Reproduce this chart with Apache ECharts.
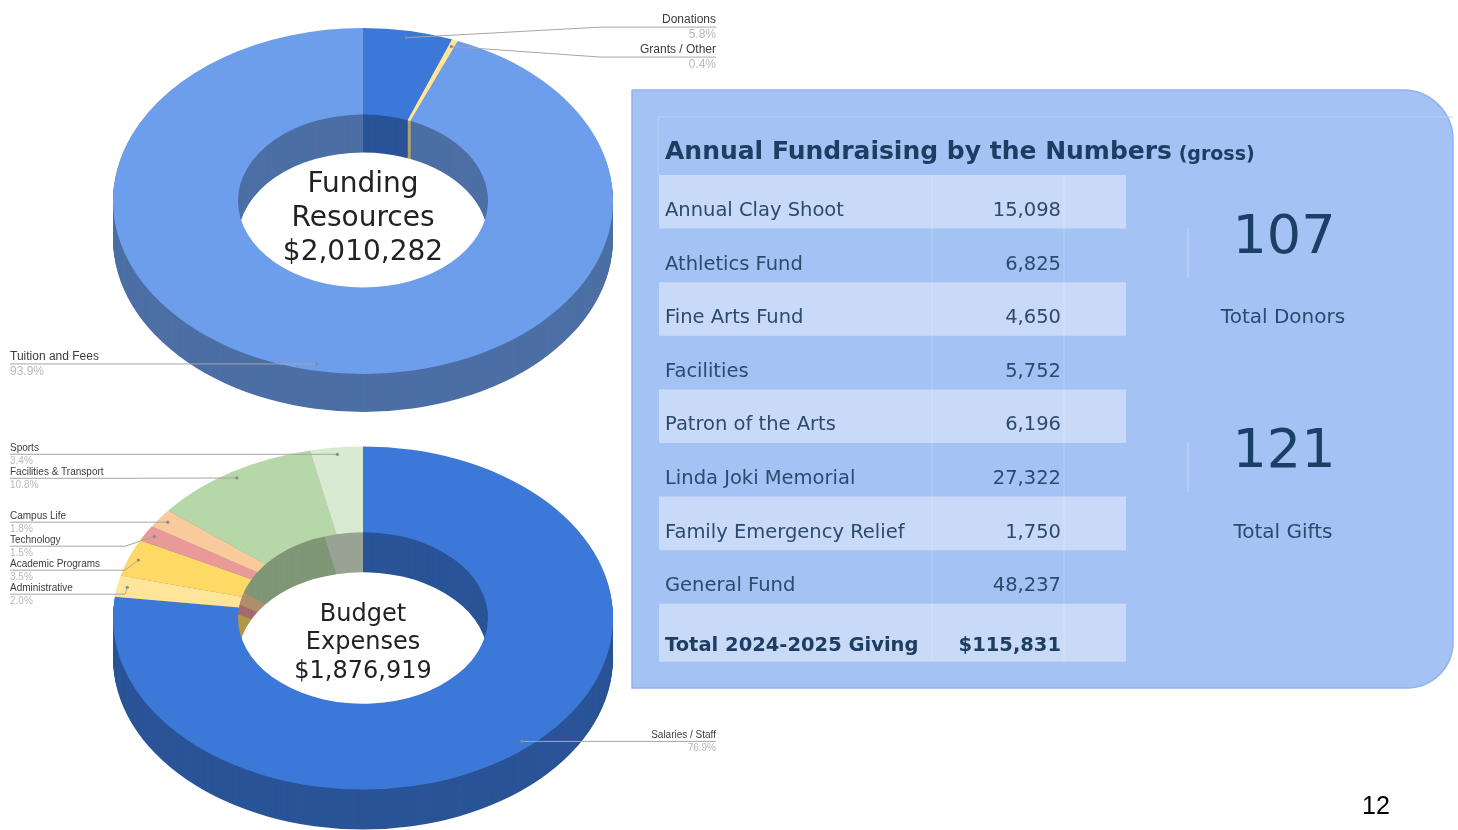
<!DOCTYPE html>
<html>
<head>
<meta charset="utf-8">
<title>Funding Resources and Budget Expenses</title>
<script src="https://cdn.jsdelivr.net/npm/echarts@6/dist/echarts.min.js"></script>
<style>
html, body { margin: 0; padding: 0; background: #fff; }
#main { width: 1458px; height: 830px; }
</style>
</head>
<body>
<div id="main"></div>
<script>
// top donut - funding resources (percent of total)
var fundingNames = ['Donations', 'Grants / Other', 'Tuition and Fees'];
var fundingPct = [5.8, 0.4, 93.9];
var fundingColors = ['#3c78d8', '#ffe599', '#6d9eeb'];
var fundingTotal = 2010282;

// bottom donut - budget expenses (percent of total)
var expenseNames = ['Salaries / Staff', 'Administrative', 'Academic Programs', 'Technology', 'Campus Life', 'Facilities & Transport', 'Sports'];
var expensePct = [76.9, 2.0, 3.5, 1.5, 1.8, 10.8, 3.4];
var expenseColors = ['#3c78d8', '#ffe599', '#ffd966', '#ea9999', '#f9cb9c', '#b6d7a8', '#d9ead3'];
var expenseTotal = 1876919;

// fundraising table
var fundNames = ['Annual Clay Shoot', 'Athletics Fund', 'Fine Arts Fund', 'Facilities', 'Patron of the Arts', 'Linda Joki Memorial', 'Family Emergency Relief', 'General Fund'];
var fundAmounts = [15098, 6825, 4650, 5752, 6196, 27322, 1750, 48237];
var givingTotal = 115831;
var totalDonors = 107;
var totalGifts = 121;
var pageNumber = 12;

function fmt(n) { return n.toLocaleString('en-US'); }

function darken(hex, k) {
    var n = parseInt(hex.slice(1), 16);
    var r = Math.round((n >> 16) * k), g = Math.round(((n >> 8) & 255) * k), b = Math.round((n & 255) * k);
    return 'rgb(' + r + ',' + g + ',' + b + ')';
}

// slice angles, label anchor and label rows worked out from the values
function buildDonut(names, values, colors, cfg) {
    var total = values.reduce(function (a, b) { return a + b; }, 0);
    var acc = 0;
    var slices = values.map(function (v, i) {
        var f0 = acc / total; acc += v; var f1 = acc / total;
        var mid = (f0 + f1) / 2 * Math.PI * 2;
        return {
            name: names[i], value: v, color: colors[i], dark: darken(colors[i], 0.7),
            a0: -Math.PI / 2 + f0 * Math.PI * 2,
            a1: -Math.PI / 2 + f1 * Math.PI * 2,
            dotX: cfg.cx + cfg.r * 0.96 * Math.sin(mid),
            dotY: cfg.cy - cfg.r * 0.96 * Math.cos(mid) * cfg.ky,
            side: Math.sin(mid) >= 0 ? 'right' : 'left'
        };
    });
    ['left', 'right'].forEach(function (side) {
        var list = slices.filter(function (s) { return s.side === side; })
            .sort(function (a, b) { return a.dotY - b.dotY; });
        list.forEach(function (s) { s.ly = s.dotY; });
        if (cfg.push === 'down') {
            for (var j = 1; j < list.length; j++) {
                list[j].ly = Math.max(list[j].ly, list[j - 1].ly + cfg.gap);
            }
            return;
        }
        for (var it = 0; it < 200; it++) {
            for (var q = 1; q < list.length; q++) {
                var d = list[q].ly - list[q - 1].ly;
                if (d < cfg.gap) {
                    var m = (cfg.gap - d) / 2;
                    list[q].ly += m; list[q - 1].ly -= m;
                }
            }
        }
    });
    return slices;
}

function donutRenderer(slices, cfg) {
    return function (params, api) {
        var s = slices[params.dataIndex];
        var shape = { cx: cfg.cx, cy: 0, r: cfg.r, r0: cfg.r0, startAngle: s.a0, endAngle: s.a1, clockwise: true };
        var kids = [];
        // side wall: stacked darker layers
        for (var k = cfg.depth; k >= 1; k--) {
            kids.push({ type: 'sector', silent: true, z2: 1, y: cfg.cy + k, scaleY: cfg.ky, shape: shape, style: { fill: s.dark } });
        }
        // top face
        kids.push({ type: 'sector', z2: 10, y: cfg.cy, scaleY: cfg.ky, shape: shape, style: { fill: s.color } });
        // leader line + label
        var left = s.side === 'left';
        var ex = left ? cfg.leftX : cfg.rightX;
        var knee = left ? Math.min(ex + 115, s.dotX) : Math.max(ex - 115, s.dotX);
        kids.push({ type: 'polyline', z2: 20, shape: { points: [[s.dotX, s.dotY], [knee, s.ly], [ex, s.ly]] },
            style: { stroke: '#a6a6a6', lineWidth: 1, fill: 'none' } });
        kids.push({ type: 'circle', z2: 21, shape: { cx: s.dotX, cy: s.dotY, r: 1.6 }, style: { fill: '#8a8a8a' } });
        kids.push({ type: 'text', z2: 22, style: {
            text: s.name, x: ex, y: s.ly - 1, align: left ? 'left' : 'right', textAlign: left ? 'left' : 'right',
            verticalAlign: 'bottom', textVerticalAlign: 'bottom',
            font: cfg.fontSize + 'px "Liberation Sans", Arial, sans-serif', fill: '#3c3c3c' } });
        kids.push({ type: 'text', z2: 22, style: {
            text: s.value.toFixed(1) + '%', x: ex, y: s.ly + 2, align: left ? 'left' : 'right', textAlign: left ? 'left' : 'right',
            verticalAlign: 'top', textVerticalAlign: 'top',
            font: cfg.fontSize + 'px "Liberation Sans", Arial, sans-serif', fill: '#b8b8b8' } });
        return { type: 'group', children: kids };
    };
}

var topCfg = { cx: 363, cy: 201, r: 250, r0: 125, ky: 0.692, depth: 38, gap: 30, push: 'center', fontSize: 12, leftX: 10, rightX: 716 };
var botCfg = { cx: 363, cy: 618, r: 250, r0: 125, ky: 0.686, depth: 40, gap: 24, push: 'down', fontSize: 10, leftX: 10, rightX: 716 };
var topSlices = buildDonut(fundingNames, fundingPct, fundingColors, topCfg);
var botSlices = buildDonut(expenseNames, expensePct, expenseColors, botCfg);

function txt(x, y, text, font, fill, align, z) {
    return { type: 'text', x: x, y: y, z: z || 10, style: {
        text: text, font: font, fill: fill,
        align: align || 'center', textAlign: align || 'center',
        verticalAlign: 'middle', textVerticalAlign: 'middle' } };
}

var FONT = '"DejaVu Sans", Verdana, sans-serif';
var TXT = '#2c4a6e';
var graphics = [];

// centre captions
graphics.push({ type: 'text', x: 363, y: 219, z: 50, style: {
    text: 'Funding\nResources\n$' + fmt(fundingTotal), font: '28px ' + FONT, lineHeight: 34, fill: '#222',
    align: 'center', textAlign: 'center', verticalAlign: 'middle', textVerticalAlign: 'middle' } });
graphics.push({ type: 'text', x: 363, y: 643, z: 50, style: {
    text: 'Budget\nExpenses\n$' + fmt(expenseTotal), font: '24px ' + FONT, lineHeight: 28.5, fill: '#222',
    align: 'center', textAlign: 'center', verticalAlign: 'middle', textVerticalAlign: 'middle' } });

// panel
graphics.push({ type: 'rect', z: 1, shape: { x: 632, y: 90, width: 821, height: 598, r: [0, 50, 46, 0] },
    style: { fill: '#a4c2f4', stroke: '#8fb2ee', lineWidth: 1.5 } });
graphics.push({ type: 'polyline', z: 2, shape: { points: [[658, 175], [658, 117], [1453, 117]] },
    style: { stroke: '#b9d0f6', lineWidth: 1, fill: 'none' } });
graphics.push({ type: 'text', x: 665, y: 152, z: 10, style: {
    text: '{a|Annual Fundraising by the Numbers}  {b|(gross)}',
    rich: {
        a: { font: 'bold 25px ' + FONT, fill: '#1d3d62', verticalAlign: 'bottom' },
        b: { font: 'bold 19px ' + FONT, fill: '#1d3d62', verticalAlign: 'bottom' }
    },
    align: 'left', textAlign: 'left', verticalAlign: 'middle', textVerticalAlign: 'middle' } });

// table rows
var rowTop = 175, rowH = 53.6;
var ROWFONT = '19.5px ' + FONT;
fundNames.forEach(function (name, i) {
    var y0 = rowTop + i * rowH;
    if (i % 2 === 0) {
        graphics.push({ type: 'rect', z: 2, shape: { x: 659, y: y0, width: 467, height: rowH }, style: { fill: '#c9daf8' } });
    }
    graphics.push(txt(665, y0 + 36, name, ROWFONT, TXT, 'left'));
    graphics.push(txt(1061, y0 + 36, fmt(fundAmounts[i]), ROWFONT, TXT, 'right'));
});
var totTop = rowTop + fundNames.length * rowH;
graphics.push({ type: 'rect', z: 2, shape: { x: 659, y: totTop, width: 467, height: 58 }, style: { fill: '#c9daf8' } });
graphics.push(txt(665, totTop + 42, 'Total 2024-2025 Giving', 'bold 19.5px ' + FONT, '#1d3d62', 'left'));
graphics.push(txt(1061, totTop + 42, '$' + fmt(givingTotal), 'bold 19.5px ' + FONT, '#1d3d62', 'right'));
// faint column rules
[932, 1064].forEach(function (x) {
    graphics.push({ type: 'line', z: 3, shape: { x1: x, y1: rowTop, x2: x, y2: totTop + 58 }, style: { stroke: 'rgba(255,255,255,0.22)', lineWidth: 1 } });
});
graphics.push({ type: 'line', z: 3, shape: { x1: 1188, y1: 228, x2: 1188, y2: 278 }, style: { stroke: '#c6d8f6', lineWidth: 1 } });
graphics.push({ type: 'line', z: 3, shape: { x1: 1188, y1: 443, x2: 1188, y2: 492 }, style: { stroke: '#c6d8f6', lineWidth: 1 } });

// big numbers
graphics.push(txt(1284, 239, String(totalDonors), '54px ' + FONT, '#1c3f66'));
graphics.push(txt(1283, 318, 'Total Donors', '20px ' + FONT, TXT));
graphics.push(txt(1284, 453, String(totalGifts), '54px ' + FONT, '#1c3f66'));
graphics.push(txt(1283, 533, 'Total Gifts', '20px ' + FONT, TXT));

// page number
graphics.push(txt(1376, 807, String(pageNumber), '25px "Liberation Sans", Arial, sans-serif', '#000'));

var chart = echarts.init(document.getElementById('main'));
chart.setOption({
    animation: false,
    backgroundColor: '#ffffff',
    graphic: { elements: graphics },
    series: [
        { type: 'custom', name: 'Funding Resources', coordinateSystem: 'none', silent: true,
          renderItem: donutRenderer(topSlices, topCfg), data: fundingPct },
        { type: 'custom', name: 'Budget Expenses', coordinateSystem: 'none', silent: true,
          renderItem: donutRenderer(botSlices, botCfg), data: expensePct }
    ]
});
</script>
</body>
</html>
